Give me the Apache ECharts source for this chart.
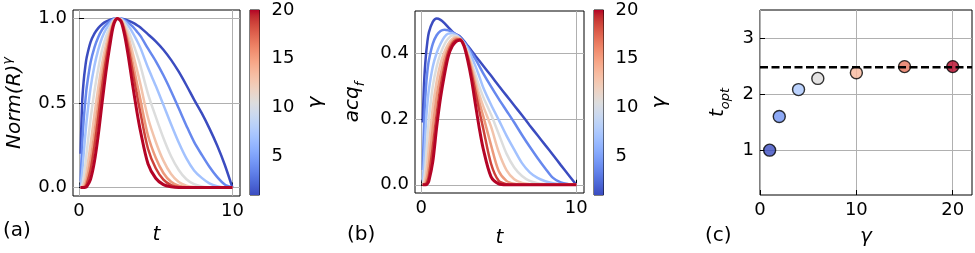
<!DOCTYPE html>
<html><head><meta charset="utf-8">
<script src="https://cdn.jsdelivr.net/npm/echarts@6/dist/echarts.min.js"></script>
<style>html,body{margin:0;padding:0;background:#fff}#c{width:975px;height:253px}</style>
</head><body><div id="c"></div>
<script>
// ---------- data ----------
const tGrid = [0.1,0.2,0.3,0.4,0.5,0.75,1.0,1.25,1.5,1.75,2.0,2.25,2.5,2.75,3.0,3.25,3.5,3.75,4.0,4.5,5.0,5.5,6.0,6.5,7.0,7.5,8.0,8.5,9.0,9.5,10.0];
const gammaCurves = [1, 2, 4, 6, 9, 12, 15, 20];

// panel (a): Norm(R)^gamma
const normR_1  = [0.20,0.50,0.63,0.71,0.77,0.86,0.91,0.943,0.966,0.981,0.991,0.998,1.0,0.999,0.994,0.986,0.975,0.962,0.947,0.906,0.865,0.815,0.755,0.685,0.605,0.52,0.44,0.35,0.25,0.135,0.0];
const normR_2  = [0.04,0.25,0.397,0.504,0.593,0.74,0.828,0.889,0.933,0.962,0.982,0.996,1.0,0.998,0.988,0.972,0.951,0.925,0.897,0.821,0.748,0.664,0.57,0.469,0.366,0.27,0.194,0.123,0.063,0.018,0.0];
const normR_3  = [0.004,0.088,0.198,0.302,0.401,0.589,0.719,0.814,0.886,0.935,0.969,0.993,1.0,0.997,0.979,0.952,0.915,0.873,0.826,0.708,0.602,0.489,0.374,0.266,0.172,0.101,0.057,0.025,0.008,0.001,0.0];
const normR_4  = [0.0,0.016,0.063,0.128,0.209,0.404,0.568,0.703,0.813,0.891,0.947,0.988,1.0,0.994,0.965,0.919,0.859,0.793,0.721,0.553,0.419,0.293,0.185,0.104,0.049,0.02,0.007,0.002,0.0,0.0,0.0];
const normR_5  = [0.0,0.002,0.016,0.046,0.096,0.257,0.428,0.59,0.733,0.841,0.922,0.982,1.0,0.991,0.947,0.881,0.796,0.706,0.612,0.411,0.271,0.159,0.08,0.033,0.011,0.003,0.001,0.0,0.0,0.0,0.0];
const normR_6  = [0.0,0.0,0.004,0.017,0.044,0.163,0.322,0.495,0.66,0.794,0.897,0.976,1.0,0.988,0.93,0.844,0.738,0.629,0.52,0.306,0.176,0.086,0.034,0.011,0.002,0.0,0.0,0.0,0.0,0.0,0.0];
const normR_7  = [0.0,0.0,0.001,0.006,0.02,0.104,0.243,0.415,0.595,0.75,0.873,0.97,1.0,0.985,0.914,0.809,0.684,0.56,0.442,0.228,0.114,0.047,0.015,0.003,0.0,0.0,0.0,0.0,0.0,0.0,0.0];
const normR_8  = [0.0,0.0,0.0,0.001,0.005,0.049,0.152,0.309,0.5,0.681,0.835,0.961,1.0,0.98,0.887,0.754,0.603,0.461,0.336,0.139,0.055,0.017,0.004,0.0,0.0,0.0,0.0,0.0,0.0,0.0,0.0];

// panel (b): acq_f
const acq_1 = [0.19,0.32,0.39,0.435,0.465,0.497,0.507,0.503,0.493,0.48,0.468,0.459,0.452,0.439,0.424,0.409,0.393,0.378,0.363,0.333,0.302,0.272,0.242,0.212,0.181,0.151,0.121,0.091,0.06,0.03,0.0];
const acq_2 = [0.045,0.2,0.29,0.345,0.38,0.43,0.456,0.469,0.473,0.471,0.466,0.458,0.449,0.436,0.42,0.402,0.383,0.362,0.34,0.3,0.262,0.226,0.19,0.152,0.116,0.082,0.05,0.021,0.007,0.002,0.0];
const acq_3 = [0.01,0.08,0.18,0.245,0.29,0.36,0.402,0.43,0.451,0.461,0.462,0.457,0.448,0.434,0.415,0.39,0.362,0.33,0.297,0.245,0.198,0.15,0.107,0.066,0.038,0.021,0.011,0.005,0.002,0.001,0.0];
const acq_4 = [0.001,0.02,0.07,0.14,0.2,0.3,0.36,0.4,0.428,0.446,0.455,0.454,0.446,0.43,0.405,0.372,0.335,0.3,0.268,0.215,0.155,0.095,0.053,0.027,0.012,0.005,0.002,0.0,0.0,0.0,0.0];
const acq_5 = [0.0,0.004,0.025,0.065,0.115,0.235,0.315,0.37,0.405,0.43,0.445,0.45,0.445,0.428,0.4,0.362,0.318,0.275,0.24,0.178,0.1,0.045,0.017,0.006,0.002,0.0,0.0,0.0,0.0,0.0,0.0];
const acq_6 = [0.0,0.001,0.008,0.028,0.06,0.175,0.27,0.335,0.385,0.416,0.437,0.446,0.445,0.427,0.395,0.352,0.302,0.252,0.21,0.122,0.042,0.012,0.003,0.0,0.0,0.0,0.0,0.0,0.0,0.0,0.0];
const acq_7 = [0.0,0.0,0.002,0.01,0.028,0.115,0.215,0.3,0.36,0.405,0.43,0.442,0.444,0.428,0.39,0.34,0.283,0.225,0.172,0.065,0.012,0.002,0.0,0.0,0.0,0.0,0.0,0.0,0.0,0.0,0.0];
const acq_8 = [0.0,0.0,0.0,0.003,0.012,0.07,0.175,0.265,0.335,0.392,0.422,0.437,0.441,0.425,0.38,0.32,0.245,0.172,0.11,0.025,0.003,0.0,0.0,0.0,0.0,0.0,0.0,0.0,0.0,0.0,0.0];

// panel (c): t_opt vs gamma
const gammaPts = [1, 2, 4, 6, 10, 15, 20];
const tOpt = [1.0, 1.6, 2.08, 2.28, 2.38, 2.49, 2.49];
const tOptLine = 2.48;

// tick labels
const xTicksT = [0, 10];
const yTicksA = [0, 0.5, 1.0];
const yTicksB = [0, 0.2, 0.4];
const xTicksC = [0, 10, 20];
const yTicksC = [1, 2, 3];
const cbTicks = [5, 10, 15, 20];
const cbRange = [1, 20];

// ---------- styles ----------
const curveColors = ['#3b4cc0','#6788ee','#a3c2fe','#dcdddd','#f2c3ab','#ec9a7c','#cd4139','#b40426'];
const ptColors = ['#3b4cc0','#7093f3','#aac7fd','#dddcdc','#f7b89c','#e7745b','#b40426'];
const coolwarm = ['#3b4cc0','#445acc','#4d68d7','#5775e1','#6282ea','#6c8ef1','#779af7','#82a5fb','#8db0fe','#98b9ff','#a3c2ff','#aec9fd','#b8d0f9','#c2d5f4','#ccd9ee','#d5dbe6','#dddddd','#e5d8d1','#ecd3c5','#f1ccb8','#f5c4ac','#f7bba0','#f7b194','#f7a687','#f49a7b','#f18d6f','#ec7f63','#e57058','#de604d','#d55042','#cb3e38','#c0282f','#b40426'];
const FONT = 'DejaVu Sans';
const TICK_FS = 18;
const NAME_FS = 20;

const normSeries = [normR_1,normR_2,normR_3,normR_4,normR_5,normR_6,normR_7,normR_8];
const acqSeries = [acq_1,acq_2,acq_3,acq_4,acq_5,acq_6,acq_7,acq_8];

const grids = [
  {left: 71, top: 10, width: 169, height: 186},   // (a)
  {left: 250, top: 10, width: 9.5, height: 185},  // colorbar a
  {left: 415, top: 11, width: 169, height: 183},  // (b)
  {left: 594, top: 10, width: 9.5, height: 185},  // colorbar b
  {left: 760, top: 10, width: 212, height: 185}   // (c)
].map(g => Object.assign({show: true, borderColor: '#000', borderWidth: 1, backgroundColor: 'transparent'}, g));

function valAxis(gi, min, max, ticks, fmt, extra) {
  return Object.assign({
    type: 'value', gridIndex: gi, min: min, max: max,
    axisLine: {show: false},
    axisTick: {show: true, inside: true, length: 5, customValues: ticks, lineStyle: {color: '#000', width: 1}},
    axisLabel: {customValues: ticks, formatter: fmt, color: '#000', fontFamily: FONT, fontSize: TICK_FS, margin: 6},
    splitLine: {show: true, lineStyle: {color: '#b0b0b0', width: 1}}
  }, extra || {});
}
const italicName = {fontFamily: FONT, fontSize: NAME_FS, fontStyle: 'italic', color: '#000'};
const richSup = {
  i: {fontFamily: FONT, fontStyle: 'italic', fontSize: NAME_FS, color: '#000', lineHeight: 28},
  s: {fontFamily: FONT, fontStyle: 'italic', fontSize: 13, color: '#000', verticalAlign: 'top', lineHeight: 15}
};
const richSub = {
  i: {fontFamily: FONT, fontStyle: 'italic', fontSize: NAME_FS, color: '#000', lineHeight: 28},
  s: {fontFamily: FONT, fontStyle: 'italic', fontSize: 13, color: '#000', verticalAlign: 'bottom', lineHeight: 15}
};

const cbY = (gi) => ({
  type: 'value', gridIndex: gi, min: cbRange[0], max: cbRange[1], position: 'right',
  axisLine: {show: false},
  axisTick: {show: true, inside: false, length: 5, customValues: cbTicks, lineStyle: {color: '#000'}},
  axisLabel: {customValues: cbTicks, color: '#000', fontFamily: FONT, fontSize: TICK_FS, margin: 12},
  splitLine: {show: false},
  name: 'γ', nameLocation: 'middle', nameGap: 46, nameTextStyle: italicName
});
const cbX = (gi) => ({type: 'value', gridIndex: gi, min: 0, max: 1, show: false});

const xAxes = [
  valAxis(0, -0.395, 10.495, xTicksT, v => String(v), {name: 't', nameLocation: 'middle', nameGap: 24, nameTextStyle: italicName}),
  cbX(1),
  valAxis(2, -0.395, 10.495, xTicksT, v => String(v), {name: 't', nameLocation: 'middle', nameGap: 35, nameTextStyle: italicName}),
  cbX(3),
  valAxis(4, 0, 22, xTicksC, v => String(v), {name: 'γ', nameLocation: 'middle', nameGap: 32, nameTextStyle: italicName})
];
const yAxes = [
  valAxis(0, -0.05, 1.05, yTicksA, v => v.toFixed(1), {name: '{i|Norm(R)}{s|γ}', nameLocation: 'middle', nameGap: 44, nameTextStyle: {rich: richSup}}),
  cbY(1),
  valAxis(2, -0.025, 0.53, yTicksB, v => v.toFixed(1), {name: '{i|acq}{s|f}', nameLocation: 'middle', nameGap: 48, nameTextStyle: {rich: richSub}}),
  cbY(3),
  valAxis(4, 0.2, 3.5, yTicksC, v => String(v), {name: '{i|t}{s|opt}', nameLocation: 'middle', nameGap: 28, nameTextStyle: {rich: richSub}})
];

const series = [];
normSeries.forEach((arr, i) => {
  series.push({
    name: 'a γ=' + gammaCurves[i], type: 'line', xAxisIndex: 0, yAxisIndex: 0,
    data: tGrid.map((t, j) => [t, arr[j]]), showSymbol: false, smooth: 0.3,
    lineStyle: {width: i === 7 ? 3 : 2.5, color: curveColors[i]}, itemStyle: {color: curveColors[i]}, z: 3 + i, silent: true
  });
});
acqSeries.forEach((arr, i) => {
  series.push({
    name: 'b γ=' + gammaCurves[i], type: 'line', xAxisIndex: 2, yAxisIndex: 2,
    data: tGrid.map((t, j) => [t, arr[j]]), showSymbol: false, smooth: 0.3,
    lineStyle: {width: i === 7 ? 3 : 2.5, color: curveColors[i]}, itemStyle: {color: curveColors[i]}, z: 3 + i, silent: true
  });
});
const stops = coolwarm.map((c, i) => ({offset: i / (coolwarm.length - 1), color: c}));
[1, 3].forEach(gi => {
  series.push({
    type: 'custom', xAxisIndex: gi, yAxisIndex: gi, data: [[0, cbRange[0]]], silent: true, z: 1,
    renderItem: (params, api) => {
      const p0 = api.coord([0, cbRange[1]]);
      const p1 = api.coord([1, cbRange[0]]);
      return {type: 'rect', shape: {x: p0[0], y: p0[1], width: p1[0] - p0[0], height: p1[1] - p0[1]},
        style: {fill: new echarts.graphic.LinearGradient(0, 1, 0, 0, stops)}};
    }
  });
});
series.push({
  type: 'scatter', xAxisIndex: 4, yAxisIndex: 4, symbolSize: 12, z: 3,
  data: gammaPts.map((g, i) => ({value: [g, tOpt[i]], itemStyle: {color: ptColors[i], borderColor: '#000', borderWidth: 1.4}})),
  silent: true
});
series.push({
  type: 'line', xAxisIndex: 4, yAxisIndex: 4, z: 5, showSymbol: false, silent: true,
  data: [[0, tOptLine], [22, tOptLine]],
  lineStyle: {color: '#000', width: 2.5, type: [8, 3.5]}
});

const labelText = (txt, left, top) => ({type: 'text', left: left, top: top, style: {text: txt, font: NAME_FS + 'px "DejaVu Sans"', fill: '#000'}});

const chart = echarts.init(document.getElementById('c'));
chart.setOption({
  animation: false,
  grid: grids,
  xAxis: xAxes,
  yAxis: yAxes,
  series: series,
  graphic: [labelText('(a)', 3, 221), labelText('(b)', 347, 225), labelText('(c)', 705, 226)]
});
</script></body></html>
